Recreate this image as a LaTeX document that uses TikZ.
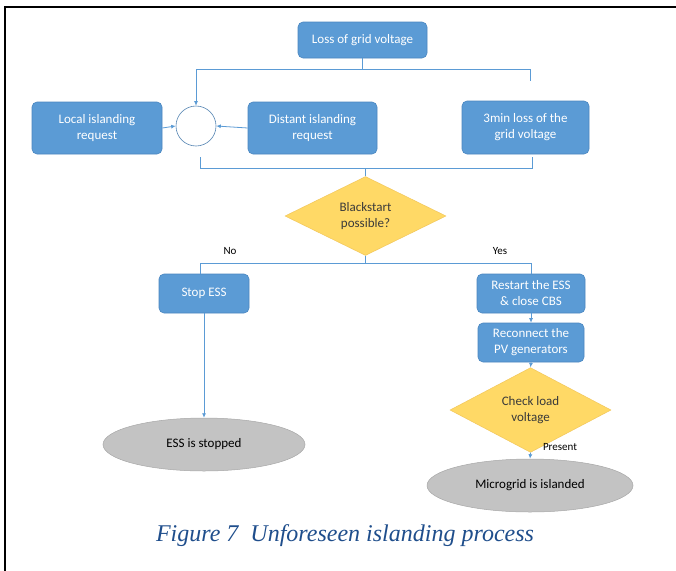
\documentclass[tikz,border=0pt]{standalone}
\usepackage{fontspec}
\setmainfont{Carlito}
\newfontfamily\capfont{Liberation Serif}
\usetikzlibrary{shapes.geometric,arrows.meta}
\definecolor{boxblue}{HTML}{5B9BD5}
\definecolor{boxedge}{HTML}{4A86C0}
\definecolor{linecol}{HTML}{5B9BD5}
\definecolor{gold}{HTML}{FFD966}
\definecolor{goldedge}{HTML}{F2C75C}
\definecolor{grayfill}{HTML}{C3C3C3}
\definecolor{grayedge}{HTML}{A8A8A8}
\definecolor{captioncol}{HTML}{1F4E8C}
\definecolor{darktext}{HTML}{3A3A3A}
\tikzset{
  procbox/.style={rectangle, rounded corners=5pt, fill=boxblue, draw=boxedge, line width=0.6pt,
    text=white, align=center, inner sep=2pt, font=\fontsize{13}{16}\selectfont},
  decis/.style={diamond, fill=gold, draw=goldedge, line width=0.5pt, text=darktext, align=center,
    inner sep=0pt, font=\fontsize{13}{16}\selectfont},
  term/.style={ellipse, fill=grayfill, draw=grayedge, line width=0.5pt, text=black, align=center,
    inner sep=0pt, font=\fontsize{13}{16}\selectfont},
  conn/.style={draw=linecol, line width=0.8pt},
  arr/.style={conn, -{Latex[length=4.5pt,width=4pt]}},
  lbl/.style={font=\fontsize{11}{13}\selectfont, text=black, inner sep=0pt},
}
\begin{document}
\begin{tikzpicture}[x=1pt,y=-1pt]
\useasboundingbox (0,0) rectangle (676,570);
\fill[white] (0,0) rectangle (676,570);
% page border
\draw[line width=2.2pt, line cap=rect] (5,570) -- (5,7) -- (676,7);

% nodes
\node[procbox, minimum width=129pt, minimum height=36pt] (loss) at (362.5,40) {Loss of grid voltage};
\node[procbox, minimum width=130pt, minimum height=52pt] (local) at (97,128) {Local islanding\\request};
\node[procbox, minimum width=129pt, minimum height=52pt] (distant) at (312.5,128) {Distant islanding\\request};
\node[procbox, minimum width=127pt, minimum height=53pt] (three) at (525.5,127.5) {3min loss of the\\grid voltage};
\node[circle, draw=boxedge!80!gray, fill=white, line width=0.6pt, minimum size=40pt, inner sep=0pt] (circ) at (196,126) {};
\node[decis, minimum width=161pt, minimum height=66pt] (bs) at (365.5,216) {Blackstart\\possible?};
\node[procbox, minimum width=90pt, minimum height=39pt] (stop) at (204,293.5) {Stop ESS};
\node[procbox, minimum width=108pt, minimum height=39pt] (restart) at (531,293.5) {Restart the ESS\\\& close CBS};
\node[procbox, minimum width=106pt, minimum height=39pt] (recon) at (531,342.5) {Reconnect the\\PV generators};
\node[decis, minimum width=161pt, minimum height=66pt] (check) at (530.5,410) {Check load\\voltage};
\node[term, minimum width=202pt, minimum height=53pt] (ess) at (204,444.5) {ESS is stopped};
\node[term, minimum width=206pt, minimum height=53pt] (micro) at (530,485.5) {Microgrid is islanded};

% labels
\node[lbl] (no) at (230,251) {No};
\node[lbl] (yes) at (500,251) {Yes};
\node[lbl] (present) at (560,447) {Present};

% caption
\node[anchor=base, text=captioncol, inner sep=0pt] (cap) at (345,541)
  {\capfont\itshape\fontsize{24}{28}\selectfont Figure 7\ \ Unforeseen islanding process};

% top bracket
\coordinate (tm) at (362.5,69);
\coordinate (tl) at (196,69);
\coordinate (tr) at (530,69);
\coordinate (tre) at (530,81);
\draw[conn] (loss.south) -- (tm);
\draw[conn] (tl) -- (tr);
\draw[conn] (tr) -- (tre);
\draw[arr] (tl) -- (circ.north);
\draw[arr] (local.east) -- (circ.west);
\draw[arr] (distant.west) -- (circ.east);

% bottom bracket
\coordinate (bl) at (200,157);
\coordinate (bl2) at (200,168);
\coordinate (br) at (532,157);
\coordinate (br2) at (532,168);
\coordinate (bm) at (365.5,168);
\draw[conn] (bl) -- (bl2) -- (br2) -- (br);
\draw[conn] (bm) -- (bs.north);

% after blackstart decision
\coordinate (dm) at (365.5,263);
\coordinate (dl) at (200,263);
\coordinate (dr) at (531,263);
\draw[conn] (bs.south) -- (dm);
\draw[conn] (dl) -- (dr);
\draw[conn] (dl) -- (dl |- stop.north);
\draw[conn] (dr) -- (restart.north);

% flows
\draw[arr] (stop.south) -- (ess.north);
\draw[arr] (restart.south) -- (recon.north);
\draw[arr] (recon.south) -- (check.north);
\draw[arr] (check.south) -- (micro.north);
\end{tikzpicture}
\end{document}
